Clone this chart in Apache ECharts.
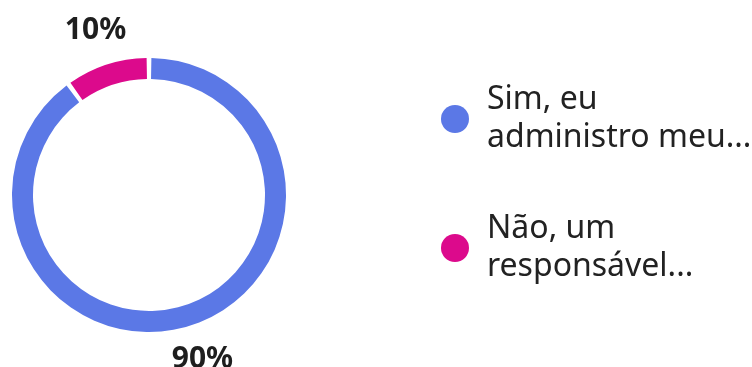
<!DOCTYPE html>
<html>
<head>
<meta charset="utf-8">
<script src="https://cdn.jsdelivr.net/npm/echarts@6/dist/echarts.min.js"></script>
<style>
html,body{margin:0;padding:0;background:#fff;}
#chart{width:752px;height:367px;}
</style>
</head>
<body>
<div id="chart"></div>
<script>
const categories = ['Sim, eu administro meu...', 'Não, um responsável...'];
const values = [90, 10];
const colors = ['#5B78E6', '#DC0A8C'];

const chart = echarts.init(document.getElementById('chart'));
const ringData = categories.map((n, i) => ({ name: n, value: values[i], itemStyle: { color: colors[i] } }));
const labelData = categories.map((n, i) => ({ name: n, value: values[i] }));

chart.setOption({
  animation: false,
  legend: {
    orient: 'vertical',
    left: 436,
    top: 'middle',
    itemWidth: 28,
    itemHeight: 28,
    itemGap: 53,
    icon: 'circle',
    data: categories,
    formatter: name => name.replace(/^(\S+ \S+) /, '$1\n'),
    textStyle: { fontFamily: 'Noto Sans', fontSize: 32, color: '#222', lineHeight: 38, padding: [0, 0, 0, 13] }
  },
  series: [
    {
      type: 'pie',
      center: [149, 195],
      radius: [116, 137],
      startAngle: 90,
      clockwise: true,
      padAngle: 2,
      label: { show: false },
      labelLine: { show: false },
      silent: true,
      data: ringData
    },
    {
      type: 'pie',
      center: [149, 195],
      radius: [162, 178],
      startAngle: 90,
      clockwise: true,
      silent: true,
      legendHoverLink: false,
      itemStyle: { color: 'rgba(0,0,0,0)' },
      label: {
        show: true,
        position: 'inside',
        formatter: p => p.value + '%',
        fontFamily: 'Noto Sans',
        fontWeight: 'bold',
        fontSize: 30,
        color: '#1e1e1e'
      },
      labelLine: { show: false },
      data: labelData
    }
  ]
});
</script>
</body>
</html>
